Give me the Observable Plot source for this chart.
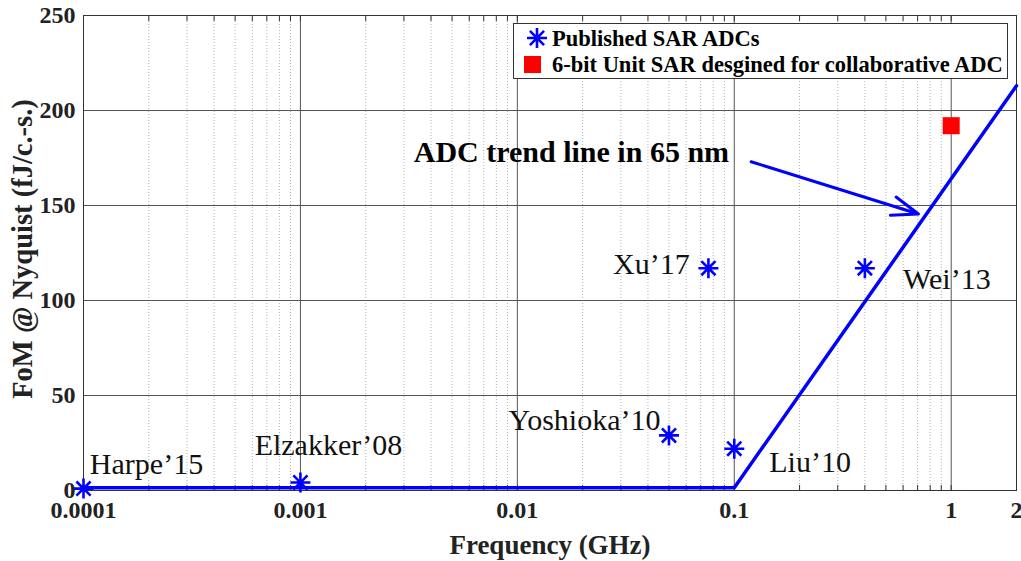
<!DOCTYPE html>
<html><head><meta charset="utf-8">
<script src="https://cdn.jsdelivr.net/npm/d3@7"></script>
<script src="https://cdn.jsdelivr.net/npm/@observablehq/plot@0.6"></script>
<style>
body{margin:0;background:#fff}
#wrap{position:relative;width:1021px;height:561px;font-family:"Liberation Serif",serif}
#legend{position:absolute;left:513px;top:23px}
</style>
</head><body><div id="wrap"></div>
<script>
// Published SAR ADCs
const pubNames = ["Harpe’15", "Elzakker’08", "Yoshioka’10", "Liu’10", "Xu’17", "Wei’13"];
const pubFreq  = [0.0001, 0.001, 0.05, 0.1, 0.076, 0.40];
const pubFoM   = [1, 4.2, 29, 22, 117, 117];
// label anchor (start, middle) for each published ADC
const labelFreq = [0.000107, 0.000615, 0.0091, 0.145, 0.0276, 0.60];
const labelFoM  = [13.5, 24, 37, 15, 119, 111];
// This work
const thisName = "6-bit Unit SAR desgined for collaborative ADC";
const thisFreq = [1];
const thisFoM  = [192];
// Trend line
const trendFreq = [0.0001, 0.1, 2];
const trendFoM  = [1.5, 1.5, 213];
const trendLabel = "ADC trend line in 65 nm";
const trendLabelFreq = [0.00333];
const trendLabelFoM = [178];
const arrowFreq = [0.1197, 0.706];
const arrowFoM = [173, 145.5];
// Axes
const xTitle = "Frequency (GHz)";
const yTitle = "FoM @ Nyquist (fJ/c.-s.)";
const xMajor = [0.0001, 0.001, 0.01, 0.1, 1];
const xTickVals = [0.0001, 0.001, 0.01, 0.1, 1, 2];
const xTickLabels = ["0.0001", "0.001", "0.01", "0.1", "1", "2"];
const yTicks = [0, 50, 100, 150, 200, 250];
const xMinor = [];
for (const e of [-4, -3, -2, -1]) for (let m = 2; m <= 9; m++) xMinor.push(+(m * 10 ** e).toPrecision(3));
xMinor.push(2);

const labelMap = new Map(xTickVals.map((v, i) => [v, xTickLabels[i]]));
const pubData = pubNames.map((n, i) => ({name: n, f: pubFreq[i], v: pubFoM[i], lf: labelFreq[i], lv: labelFoM[i]}));
const thisData = thisFreq.map((f, i) => ({f, v: thisFoM[i]}));
const trendData = trendFreq.map((f, i) => ({f, v: trendFoM[i]}));

const asterisk8 = {
  draw(ctx, size) {
    const r = Math.sqrt(size / Math.PI), d = r * Math.SQRT1_2;
    ctx.moveTo(-r, 0); ctx.lineTo(r, 0);
    ctx.moveTo(0, -r); ctx.lineTo(0, r);
    ctx.moveTo(-d, -d); ctx.lineTo(d, d);
    ctx.moveTo(-d, d); ctx.lineTo(d, -d);
  }
};

const font = "Liberation Serif";
const plot = Plot.plot({
  width: 1021, height: 561,
  marginLeft: 83, marginRight: 5, marginTop: 15, marginBottom: 71,
  style: {fontFamily: font, background: "#fff", color: "#222"},
  x: {type: "log", domain: [0.0001, 2]},
  y: {domain: [0, 250]},
  marks: [
    Plot.ruleX(xMinor, {stroke: "#b0b0b0", strokeDasharray: "1,2", strokeWidth: 1}),
    Plot.ruleX(xMajor, {stroke: "#555", strokeWidth: 1}),
    Plot.ruleY(yTicks, {stroke: "#555", strokeWidth: 1}),
    Plot.axisX(xMinor.concat(xMajor), {anchor: "bottom", tickSize: -5, tickFormat: () => "", stroke: "#333", label: null}),
    Plot.axisX(xMinor.concat(xMajor), {anchor: "top", tickSize: -5, tickFormat: () => "", stroke: "#333", label: null}),
    Plot.axisX(xTickVals, {anchor: "bottom", tickSize: 0, tickPadding: 10, tickFormat: d => labelMap.get(d),
      fontSize: 24, fontWeight: "bold", fill: "#222", label: null}),
    Plot.axisY(yTicks, {anchor: "left", tickSize: 0, tickPadding: 8, fontSize: 24, fontWeight: "bold", fill: "#222", label: null}),
    Plot.text([xTitle], {frameAnchor: "bottom", dy: 55, text: d => d, lineAnchor: "middle", textAnchor: "middle",
      fontSize: 27, fontWeight: "bold", fill: "#222"}),
    Plot.text([yTitle], {frameAnchor: "left", dx: -61, dy: -4, rotate: -90, text: d => d, lineAnchor: "middle", textAnchor: "middle",
      fontSize: 28.5, fontWeight: "bold", fill: "#222"}),
    Plot.frame({stroke: "#333", strokeWidth: 1}),
    Plot.line(trendData, {x: "f", y: "v", stroke: "#0000ff", strokeWidth: 3.5}),
    Plot.arrow([0], {x1: () => arrowFreq[0], y1: () => arrowFoM[0], x2: () => arrowFreq[1], y2: () => arrowFoM[1],
      stroke: "#0000ff", strokeWidth: 3, headLength: 14, headAngle: 40}),
    Plot.text([trendLabel], {x: () => trendLabelFreq[0], y: () => trendLabelFoM[0], text: d => d, textAnchor: "start",
      lineAnchor: "middle", fontSize: 30, fontWeight: "bold", fill: "#000"}),
    Plot.dot(pubData, {x: "f", y: "v", symbol: asterisk8, r: 10, fill: "none", stroke: "#0000ff", strokeWidth: 2.6}),
    Plot.dot(thisData, {x: "f", y: "v", symbol: "square", r: 9.6, fill: "#ff0000", stroke: "none"}),
    Plot.text(pubData, {x: "lf", y: "lv", text: "name", textAnchor: "start", lineAnchor: "middle", fontSize: 30, fill: "#111"})
  ]
});
const wrap = document.getElementById("wrap");
wrap.appendChild(plot);

// legend
const lg = d3.select(wrap).append("svg").attr("id", "legend").attr("width", 495).attr("height", 56);
lg.append("rect").attr("x", 0.5).attr("y", 0.5).attr("width", 494).attr("height", 55).attr("fill", "#fff").attr("stroke", "#333");
const ax = 24, ay = 15, r = 10, dd = r * Math.SQRT1_2;
lg.append("path").attr("d", `M${ax - r},${ay}H${ax + r}M${ax},${ay - r}V${ay + r}M${ax - dd},${ay - dd}L${ax + dd},${ay + dd}M${ax - dd},${ay + dd}L${ax + dd},${ay - dd}`)
  .attr("stroke", "#0000ff").attr("stroke-width", 2.6).attr("fill", "none");
lg.append("rect").attr("x", 11).attr("y", 33).attr("width", 17).attr("height", 17).attr("fill", "#ff0000");
lg.append("text").attr("x", 39).attr("y", 23).text("Published SAR ADCs")
  .attr("font-family", font).attr("font-weight", "bold").attr("font-size", 22.5).attr("fill", "#000");
lg.append("text").attr("x", 39).attr("y", 49).text(thisName)
  .attr("font-family", font).attr("font-weight", "bold").attr("font-size", 22.5).attr("fill", "#000");
</script>
</body></html>
